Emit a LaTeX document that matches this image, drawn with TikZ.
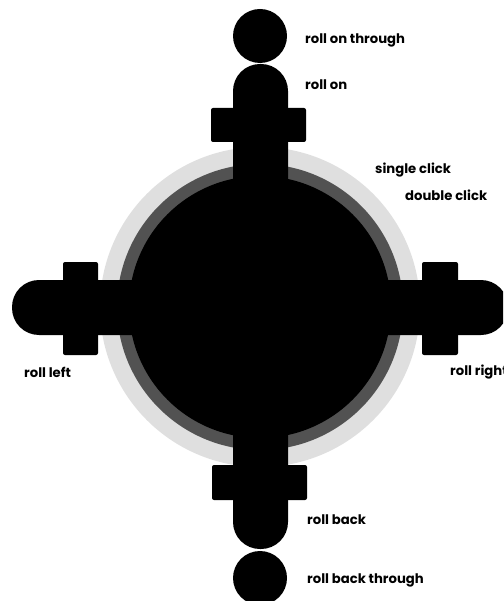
\documentclass[tikz,border=0pt]{standalone}
\usepackage{fontspec}
\setmainfont{Poppins}
\begin{document}
\begin{tikzpicture}[x=1pt,y=-1pt,
  lbl/.style={anchor=west, inner sep=0pt, font=\fontsize{13.2}{15}\selectfont\bfseries},
  disc/.style={circle, fill=black, inner sep=0pt, minimum size=54pt},
  ringdisc/.style={circle, inner sep=0pt},
  crossbar/.style={fill=black, rounded corners=2pt},
  capsule/.style={fill=black, rounded corners=27pt}]
\useasboundingbox (0,0) rectangle (503,601);
\clip (0,0) rectangle (503,601);
\node[ringdisc, fill=gray!25, minimum size=320pt] (outer) at (260,307) {};
\node[ringdisc, fill=black!68, minimum size=286pt] (ring) at (260,307) {};
\node[ringdisc, fill=black, minimum size=262pt] (core) at (260,307) {};
\fill[capsule] (233,64) rectangle (288,549);
\fill[capsule] (12,280) rectangle (508,335);
\fill[crossbar] (211,108) rectangle (306,142);
\fill[crossbar] (212,465) rectangle (307,500);
\fill[crossbar] (63,262) rectangle (98,355);
\fill[crossbar] (422,262) rectangle (458,355);
\node[disc] (through) at (260,36) {};
\node[disc] (backthrough) at (260,578) {};
\node[lbl] (lthrough) at (305,40) {roll on through};
\node[lbl] (lon) at (305,85) {roll on};
\node[lbl] (lsingle) at (375,170) {single click};
\node[lbl] (ldouble) at (405,195) {double click};
\node[lbl] (lleft) at (24,372) {roll left};
\node[lbl] (lright) at (450,372) {roll right};
\node[lbl] (lback) at (307,520) {roll back};
\node[lbl] (lbackthrough) at (307,580) {roll back through};
\end{tikzpicture}
\end{document}
